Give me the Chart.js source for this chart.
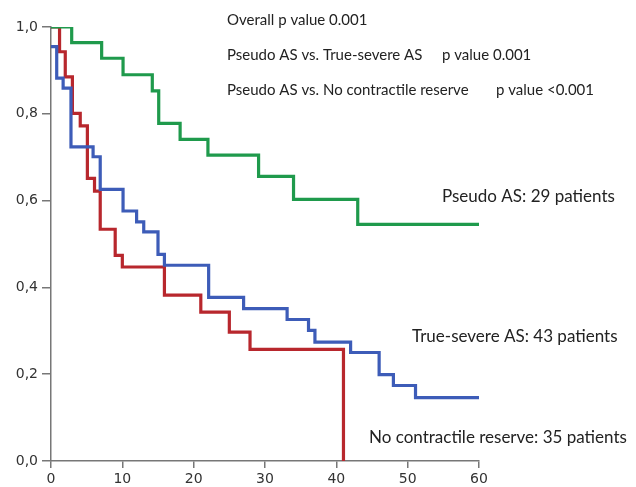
<!DOCTYPE html>
<html lang="en">

<head>
  <meta charset="UTF-8">
  <title>Kaplan-Meier</title>
  <script src="https://cdn.jsdelivr.net/npm/chart.js"></script>
  <style>
    body {
      margin: 0;
      padding: 0;
      background: #fff;
    }

    div {
      position: relative;
      width: 636px;
      height: 487px;
    }
  </style>
</head>

<body>
  <div>
    <canvas id="km"></canvas>
  </div>
  <script>
    // months / survival
    const pseudoTimes = [0, 2.9, 7.1, 10.1, 14.2, 15.1, 18.1, 22, 29.1, 34, 43, 60];
    const pseudoSurv = [1, 0.964, 0.928, 0.89, 0.853, 0.778, 0.741, 0.705, 0.656, 0.603, 0.545, 0.545];

    const trueTimes = [0, 0.8, 1.7, 2.8, 5.9, 6.9, 10.1, 12, 13, 15, 15.9, 22.1, 27, 33.1, 36.1, 37, 42, 46, 48, 51.1, 60];
    const trueSurv = [0.955, 0.882, 0.859, 0.724, 0.701, 0.626, 0.576, 0.551, 0.528, 0.476, 0.451, 0.377, 0.351, 0.326, 0.301, 0.274, 0.25, 0.199, 0.174, 0.146, 0.146];

    const noResTimes = [0, 1.2, 2, 3, 4.1, 5.1, 6.1, 6.9, 9, 10, 15.9, 21, 25, 27.9, 41];
    const noResSurv = [1, 0.943, 0.885, 0.801, 0.772, 0.651, 0.622, 0.534, 0.474, 0.447, 0.382, 0.343, 0.297, 0.257, 0];

    const xTicks = [0, 10, 20, 30, 40, 50, 60];
    const yTicks = [0, 0.2, 0.4, 0.6, 0.8, 1.0];

    const pValueLines = [
      ['Overall p value 0.001', ''],
      ['Pseudo AS vs. True-severe AS', 'p value 0.001'],
      ['Pseudo AS vs. No contractile reserve', 'p value <0.001'],
    ];
    const groupLabels = ['Pseudo AS: 29 patients', 'True-severe AS: 43 patients', 'No contractile reserve: 35 patients'];

    const toPts = (t, s) => t.map((x, i) => ({ x: x, y: s[i] }));

    const mkSet = (label, t, s, color) => ({
      label: label,
      data: toPts(t, s),
      borderColor: color,
      borderWidth: 3.2,
      stepped: 'before', // horizontal first, then drop
      pointRadius: 0,
      fill: false,
    });

    //文字
    const textPlugin = {
      id: 'texts',
      afterDraw(chart) {
        const ctx = chart.ctx;
        ctx.save();
        ctx.fillStyle = '#222';
        ctx.textBaseline = 'middle';
        ctx.textAlign = 'left';
        ctx.font = '15px Lato';
        const rowY = [20, 55, 90];
        const secondX = [0, 442, 496];
        pValueLines.forEach((row, i) => {
          ctx.fillText(row[0], 227, rowY[i]);
          if (row[1]) ctx.fillText(row[1], secondX[i], rowY[i]);
        });
        ctx.font = '17px Lato';
        ctx.fillText(groupLabels[0], 442, 197);
        ctx.fillText(groupLabels[1], 412, 337);
        ctx.fillText(groupLabels[2], 369, 438);
        ctx.restore();
      }
    };

    new Chart(document.getElementById('km'), {
      type: 'line',
      data: {
        datasets: [
          mkSet('Pseudo AS', pseudoTimes, pseudoSurv, '#1f9a4c'),
          mkSet('True-severe AS', trueTimes, trueSurv, '#3d5cb8'),
          mkSet('No contractile reserve', noResTimes, noResSurv, '#b8272d'),
        ]
      },
      options: {
        responsive: true,
        maintainAspectRatio: false,
        animation: false,
        layout: {
          padding: { top: 27, right: 157, left: 0, bottom: 0 }
        },
        plugins: {
          legend: { display: false },
          tooltip: { enabled: false },
        },
        scales: {
          x: {
            type: 'linear',
            min: 0,
            max: 60,
            afterFit: (s) => { s.height = 26; },
            afterBuildTicks: (s) => { s.ticks = xTicks.map(v => ({ value: v })); },
            grid: { drawOnChartArea: false, tickLength: 7, color: '#777', lineWidth: 1.5 },
            border: { color: '#777', width: 1.5 },
            ticks: {
              padding: 3,
              color: '#333',
              font: { family: 'DejaVu Sans', size: 14 },
            }
          },
          y: {
            min: 0,
            max: 1,
            afterFit: (s) => { s.width = 51; },
            afterBuildTicks: (s) => { s.ticks = yTicks.map(v => ({ value: v })); },
            grid: { drawOnChartArea: false, tickLength: 9, color: '#777', lineWidth: 1.5 },
            border: { color: '#777', width: 1.5 },
            ticks: {
              padding: 4,
              color: '#333',
              font: { family: 'DejaVu Sans', size: 14 },
              callback: (v) => v.toFixed(1).replace('.', ','),
            }
          }
        }
      },
      plugins: [textPlugin]
    });
  </script>
</body>

</html>
